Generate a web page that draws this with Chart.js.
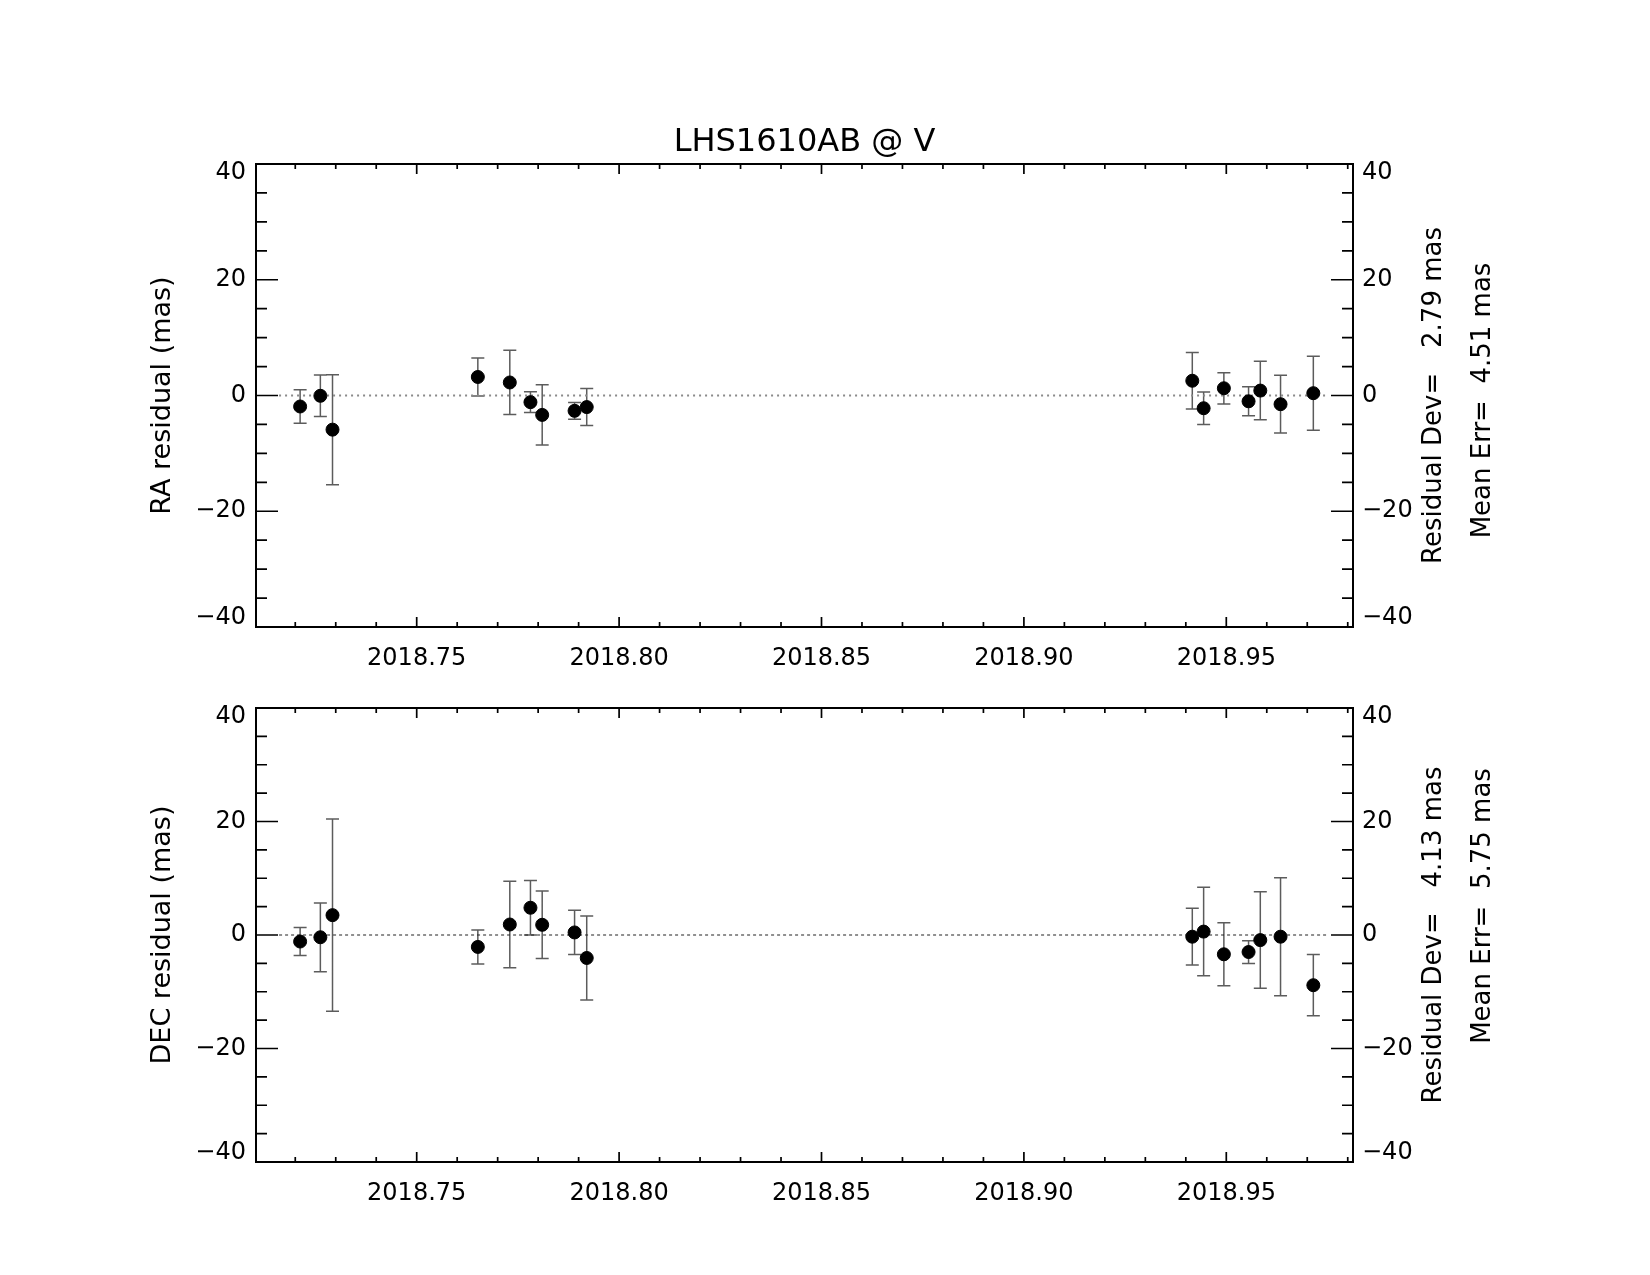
<!DOCTYPE html>
<html>
<head>
<meta charset="utf-8">
<title>LHS1610AB @ V residuals</title>
<script src="https://cdn.jsdelivr.net/npm/chart.js@4.4.1/dist/chart.umd.min.js"></script>
<style>
    html, body { margin: 0; padding: 0; background: #fff; }
    #wrap { position: relative; width: 1650px; height: 1275px; }
    canvas { position: absolute; left: 0; }
    #raChart { top: 0; }
    #decChart { top: 680px; }
</style>
</head>
<body>
<div id="wrap">
    <canvas id="raChart" width="1650" height="680"></canvas>
    <canvas id="decChart" width="1650" height="595"></canvas>
</div>
<script>
// epochs (decimal year) shared by both panels
const epochs = [2018.7212, 2018.7262, 2018.7292, 2018.7651, 2018.7730, 2018.7781, 2018.7810, 2018.7890,
                2018.7920, 2018.9416, 2018.9444, 2018.9494, 2018.9555, 2018.9584, 2018.9634, 2018.9715];

const raResid = [-1.9, -0.05, -5.9, 3.2, 2.25, -1.15, -3.35, -2.65, -2.0, 2.55, -2.2, 1.25, -1.0, 0.85, -1.5, 0.4];
const raErr   = [2.9, 3.6, 9.5, 3.3, 5.55, 1.8, 5.2, 1.45, 3.2, 4.9, 2.8, 2.7, 2.5, 5.05, 5.0, 6.4];

const decResid = [-1.15, -0.4, 3.5, -2.1, 1.85, 4.8, 1.8, 0.45, -4.05, -0.3, 0.6, -3.4, -3.0, -0.9, -0.3, -8.85];
const decErr   = [2.45, 6.06, 16.95, 3.0, 7.6, 4.8, 5.95, 3.9, 7.4, 5.0, 7.8, 5.55, 2.0, 8.5, 10.4, 5.4];

const raStats  = [2.79, 4.51];   // residual dev, mean err (mas)
const decStats = [4.13, 5.75];

const xTicks = [2018.75, 2018.80, 2018.85, 2018.90, 2018.95];
const yTicks = [-40, -20, 0, 20, 40];
const xRange = [2018.7103, 2018.9813];
const yRange = [-40, 40];
const zeroLineX = [2018.716, 2018.975];

Chart.defaults.font.family = "'DejaVu Sans', sans-serif";
Chart.defaults.color = "#000";

// IDL pulls the end labels inside the box: push them in with an empty second line
const yLabel = v => {
    const s = v < 0 ? "\u2212" + Math.abs(v) : String(v);
    if (v === yRange[1]) return ["", s];
    if (v === yRange[0]) return [s, ""];
    return s;
};
const yTickFont = c => {
    const v = c.tick ? c.tick.value : 0;
    const end = v === yRange[0] || v === yRange[1];
    return { size: 24, lineHeight: end ? "18px" : 1.2 };
};

// error bars drawn under the points
const errorBars = {
    id: "errorBars",
    beforeDatasetsDraw(chart) {
        const { ctx, scales: { x, y } } = chart;
        chart.data.datasets.forEach(ds => {
            if (!ds.errors) return;
            ctx.save();
            ctx.strokeStyle = "#5c5c5c";
            ctx.lineWidth = 1.5;
            ctx.beginPath();
            ds.data.forEach((p, i) => {
                const px = x.getPixelForValue(p.x);
                const lo = y.getPixelForValue(p.y - ds.errors[i]);
                const hi = y.getPixelForValue(p.y + ds.errors[i]);
                ctx.moveTo(px, lo); ctx.lineTo(px, hi);
                ctx.moveTo(px - 6.5, lo); ctx.lineTo(px + 6.5, lo);
                ctx.moveTo(px - 6.5, hi); ctx.lineTo(px + 6.5, hi);
            });
            ctx.stroke();
            ctx.restore();
        });
    }
};

// IDL-style box with inward ticks, plus the rotated stats text on the right
const frame = {
    id: "frame",
    afterDraw(chart, args, opts) {
        const { ctx, chartArea: a, scales: { x, y } } = chart;
        ctx.save();
        ctx.strokeStyle = "#000";
        ctx.lineWidth = 2;
        ctx.strokeRect(a.left, a.top, a.right - a.left, a.bottom - a.top);

        ctx.lineWidth = 1.7;
        ctx.beginPath();
        for (let v = yRange[0]; v <= yRange[1]; v += 5) {
            const py = y.getPixelForValue(v);
            const len = v % 20 === 0 ? 22 : 11;
            ctx.moveTo(a.left, py); ctx.lineTo(a.left + len, py);
            ctx.moveTo(a.right, py); ctx.lineTo(a.right - len, py);
        }
        for (let k = Math.ceil(xRange[0] * 100); k / 100 <= xRange[1]; k++) {
            const px = x.getPixelForValue(k / 100);
            const len = k % 5 === 0 ? 10 : 5;
            ctx.moveTo(px, a.bottom); ctx.lineTo(px, a.bottom - len);
            ctx.moveTo(px, a.top); ctx.lineTo(px, a.top + len);
        }
        ctx.stroke();

        ctx.fillStyle = "#000";
        ctx.font = "26px 'DejaVu Sans'";
        ctx.textAlign = "center";
        ctx.textBaseline = "middle";
        const cy = (a.top + a.bottom) / 2;
        opts.lines.forEach(l => {
            ctx.save();
            ctx.translate(l.x, cy + (l.dy || 0));
            ctx.rotate(-Math.PI / 2);
            ctx.fillText(l.text, 0, 0);
            ctx.restore();
        });
        ctx.restore();
    }
};

function makePanel(id, yTitle, resid, err, stats, zeroStyle, layout) {
    const points = epochs.map((t, i) => ({ x: t, y: resid[i] }));
    return new Chart(document.getElementById(id), {
        type: "scatter",
        data: {
            datasets: [
                {
                    label: yTitle,
                    data: points,
                    errors: err,
                    backgroundColor: "#000",
                    borderColor: "#000",
                    pointRadius: 6.5,
                    pointHoverRadius: 6.5,
                    order: 0
                },
                {
                    type: "line",
                    label: "zero",
                    data: zeroLineX.map(t => ({ x: t, y: 0 })),
                    borderColor: zeroStyle.color,
                    borderWidth: zeroStyle.width,
                    borderDash: zeroStyle.dash,
                    pointRadius: 0,
                    fill: false,
                    order: 1
                }
            ]
        },
        options: {
            responsive: false,
            animation: false,
            devicePixelRatio: 1,
            layout: { padding: { top: layout.padTop, left: 0, right: 0, bottom: 0 } },
            plugins: {
                legend: { display: false },
                tooltip: { enabled: false },
                title: layout.title
                    ? {
                          display: true,
                          fullSize: false,
                          text: layout.title,
                          color: "#000",
                          font: { size: 32, weight: "normal" },
                          padding: { top: 123, bottom: 2.6 }
                      }
                    : { display: false },
                frame: {
                    lines: [
                        { text: "Residual Dev=   " + stats[0].toFixed(2) + " mas", x: 1434 },
                        { text: "Mean Err=  " + stats[1].toFixed(2) + " mas", x: 1483, dy: layout.meanDy }
                    ]
                }
            },
            scales: {
                x: {
                    type: "linear",
                    position: "bottom",
                    min: xRange[0],
                    max: xRange[1],
                    afterBuildTicks: s => { s.ticks = xTicks.map(v => ({ value: v })); },
                    afterFit: s => { s.height = layout.xHeight; },
                    grid: { display: false, drawTicks: false },
                    border: { display: false },
                    ticks: {
                        padding: 17,
                        maxRotation: 0,
                        autoSkip: false,
                        font: { size: 24 },
                        callback: v => v.toFixed(2)
                    }
                },
                y: {
                    position: "left",
                    min: yRange[0],
                    max: yRange[1],
                    afterBuildTicks: s => { s.ticks = yTicks.map(v => ({ value: v })); },
                    afterFit: s => { s.width = 256; },
                    grid: { display: false, drawTicks: false },
                    border: { display: false },
                    ticks: { padding: 10, font: yTickFont, callback: yLabel },
                    title: {
                        display: true,
                        text: yTitle,
                        font: { size: 27 },
                        padding: { top: 147, bottom: 0 }
                    }
                },
                y2: {
                    position: "right",
                    min: yRange[0],
                    max: yRange[1],
                    afterBuildTicks: s => { s.ticks = yTicks.map(v => ({ value: v })); },
                    afterFit: s => { s.width = 297; },
                    grid: { display: false, drawTicks: false },
                    border: { display: false },
                    ticks: { padding: 9, font: yTickFont, callback: yLabel }
                }
            }
        },
        plugins: [errorBars, frame]
    });
}

makePanel("raChart", "RA residual (mas)", raResid, raErr, raStats,
    { color: "#8a8a8a", width: 2, dash: [2, 4] },
    { title: "LHS1610AB @ V", padTop: 0, xHeight: 53, meanDy: 5 });

makePanel("decChart", "DEC residual (mas)", decResid, decErr, decStats,
    { color: "#222", width: 1, dash: [3, 3] },
    { title: null, padTop: 20, xHeight: 113, meanDy: -29 });
</script>
</body>
</html>
